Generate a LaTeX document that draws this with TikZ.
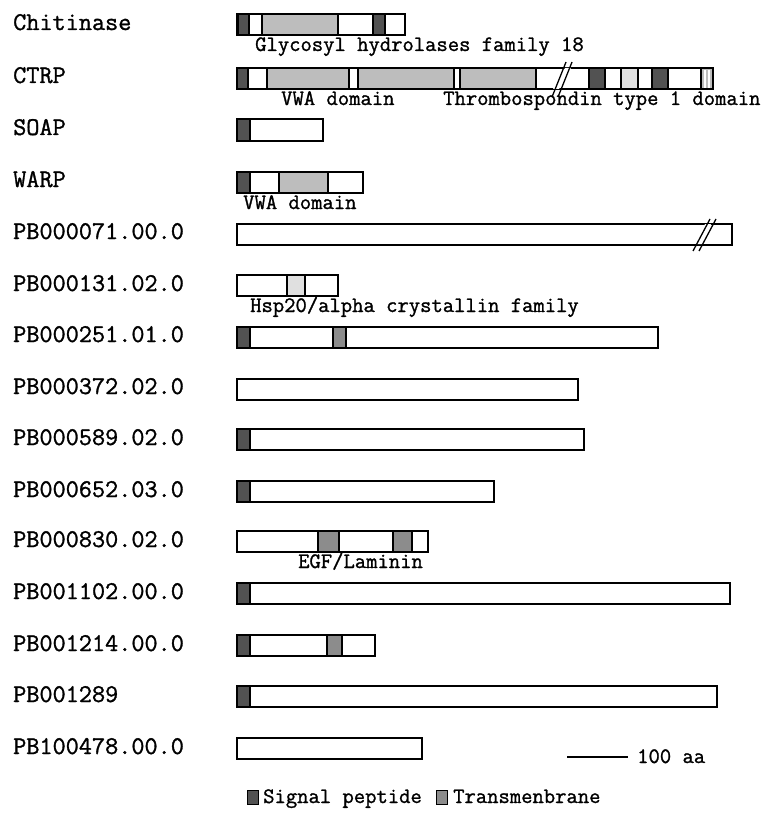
\documentclass[tikz,border=0pt]{standalone}
\usepackage{fontspec}
\newfontfamily\reftt[FakeBold=1.2]{Latin Modern Mono}
\begin{document}
\begin{tikzpicture}[x=1pt,y=-1pt,
  namelbl/.style={anchor=base west,inner sep=0pt,font=\fontsize{25.5}{26}\selectfont\reftt},
  domlbl/.style={anchor=base west,inner sep=0pt,font=\fontsize{22}{22}\selectfont\reftt},
  outline/.style={draw=black,line width=2pt},
  segline/.style={draw=black,line width=1.3pt}]
\definecolor{sigc}{gray}{0.32}
\definecolor{domc}{gray}{0.74}
\definecolor{tmc}{gray}{0.55}
\definecolor{lightc}{gray}{0.88}
\useasboundingbox (0,0) rectangle (777,824);
\fill[white] (0,0) rectangle (777,824);
\newcommand\hb{10.5}
% segment: x1 x2 y colour
\newcommand\seg[4]{\path[fill=#4,segline] (#1,#3-\hb) rectangle (#2,#3+\hb);}
\newcommand\protbox[3]{\path[outline] (#1,#3-\hb) rectangle (#2,#3+\hb);}
% Chitinase
\node[namelbl] (n1) at (13,30) {Chitinase};
\seg{238}{249}{25}{sigc}\seg{249}{262}{25}{white}\seg{262}{338}{25}{domc}
\seg{338}{373}{25}{white}\seg{373}{385}{25}{sigc}\seg{385}{405}{25}{white}
\protbox{237}{405}{25}
\node[domlbl] (d1) at (255,51) {Glycosyl hydrolases family 18};
% CTRP
\node[namelbl] (n2) at (13,83) {CTRP};
\seg{237}{248}{79}{sigc}\seg{248}{267}{79}{white}\seg{267}{349}{79}{domc}
\seg{349}{358}{79}{white}\seg{358}{454}{79}{domc}\seg{454}{460}{79}{white}
\seg{460}{536}{79}{domc}\seg{536}{589}{79}{white}\seg{589}{605}{79}{sigc}
\seg{605}{621}{79}{white}\seg{621}{638}{79}{lightc}\seg{638}{652}{79}{white}
\seg{652}{668}{79}{sigc}\seg{668}{701}{79}{white}\seg{701}{713}{79}{domc}
\draw[white,line width=1.2pt] (705,70) -- (705,88) (709,70) -- (709,88);
\protbox{237}{713}{79}
\fill[white] (553,89) -- (565,68) -- (571,68) -- (559,89) -- cycle;
\draw[line width=1.3pt] (552,97) -- (566,62) (558,97) -- (572,62);
\node[domlbl] (d2) at (281,105) {VWA domain};
\node[domlbl] (d3) at (443,105) {Thrombospondin type 1 domain};
% SOAP
\node[namelbl] (n3) at (13,135) {SOAP};
\seg{237}{250}{130}{sigc}\seg{250}{323}{130}{white}
\protbox{237}{323}{130}
% WARP
\node[namelbl] (n4) at (13,187) {WARP};
\seg{237}{250}{182}{sigc}\seg{250}{279}{182}{white}\seg{279}{328}{182}{domc}\seg{328}{363}{182}{white}
\protbox{237}{363}{182}
\node[domlbl] (d4) at (243,209) {VWA domain};
% PB000071
\node[namelbl] (n5) at (13,239) {PB000071.00.0};
\protbox{237}{732}{234}
\fill[white] (697,244) -- (705,224) -- (711,224) -- (703,244) -- cycle;
\draw[line width=1.3pt] (693,251) -- (710,219) (699,251) -- (716,219);
% PB000131
\node[namelbl] (n6) at (13,291) {PB000131.02.0};
\seg{237}{287}{285}{white}\seg{287}{305}{285}{lightc}\seg{305}{338}{285}{white}
\protbox{237}{338}{285}
\node[domlbl] (d5) at (250,312) {Hsp20/alpha crystallin family};
% PB000251
\node[namelbl] (n7) at (13,342) {PB000251.01.0};
\seg{237}{250}{337}{sigc}\seg{250}{333}{337}{white}\seg{333}{346}{337}{tmc}\seg{346}{658}{337}{white}
\protbox{237}{658}{337}
% PB000372
\node[namelbl] (n8) at (13,394) {PB000372.02.0};
\protbox{237}{578}{389}
% PB000589
\node[namelbl] (n9) at (13,445) {PB000589.02.0};
\seg{237}{250}{439}{sigc}\seg{250}{584}{439}{white}
\protbox{237}{584}{439}
% PB000652
\node[namelbl] (n10) at (13,497) {PB000652.03.0};
\seg{237}{250}{491}{sigc}\seg{250}{494}{491}{white}
\protbox{237}{494}{491}
% PB000830
\node[namelbl] (n11) at (13,547) {PB000830.02.0};
\seg{237}{318}{541}{white}\seg{318}{339}{541}{tmc}\seg{339}{393}{541}{white}
\seg{393}{412}{541}{tmc}\seg{412}{428}{541}{white}
\protbox{237}{428}{541}
\node[domlbl] (d6) at (298,568) {EGF/Laminin};
% PB001102
\node[namelbl] (n12) at (13,599) {PB001102.00.0};
\seg{237}{250}{593}{sigc}\seg{250}{730}{593}{white}
\protbox{237}{730}{593}
% PB001214
\node[namelbl] (n13) at (13,651) {PB001214.00.0};
\seg{237}{250}{645}{sigc}\seg{250}{327}{645}{white}\seg{327}{342}{645}{tmc}\seg{342}{375}{645}{white}
\protbox{237}{375}{645}
% PB001289
\node[namelbl] (n14) at (13,702) {PB001289};
\seg{237}{250}{696}{sigc}\seg{250}{717}{696}{white}
\protbox{237}{717}{696}
% PB100478
\node[namelbl] (n15) at (13,754) {PB100478.00.0};
\protbox{237}{422}{748}
% scale bar
\coordinate (s1) at (567,757);
\coordinate (s2) at (628,757);
\draw[line width=1.6pt] (s1) -- (s2);
\node[domlbl] (sc) at (637,763) {100 aa};
% legend
\path[fill=sigc,draw=black,line width=1pt] (247,790) rectangle (258,804);
\node[domlbl] (l1) at (263,803) {Signal peptide};
\path[fill=tmc,draw=black,line width=1pt] (436,790) rectangle (447,804);
\node[domlbl] (l2) at (453,803) {Transmenbrane};
\end{tikzpicture}
\end{document}
